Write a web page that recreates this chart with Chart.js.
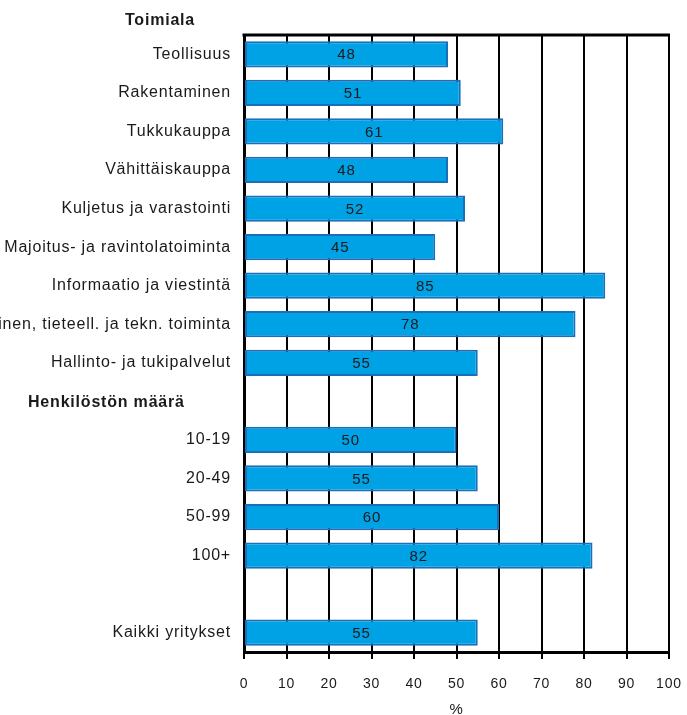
<!DOCTYPE html>
<html>
<head>
<meta charset="utf-8">
<script src="https://cdn.jsdelivr.net/npm/chart.js@4"></script>
<style>
  html, body { margin: 0; padding: 0; background: #fff; }
  #wrap { width: 687px; height: 715px; }
</style>
</head>
<body>
<div id="wrap"><canvas id="chart" width="687" height="715"></canvas></div>
<script>
// categories and values
var headers = ["Toimiala", "Henkilöstön määrä"];
var industries = ["Teollisuus", "Rakentaminen", "Tukkukauppa", "Vähittäiskauppa",
  "Kuljetus ja varastointi", "Majoitus- ja ravintolatoiminta", "Informaatio ja viestintä",
  "Ammatillinen, tieteell. ja tekn. toiminta", "Hallinto- ja tukipalvelut"];
var industryValues = [48, 51, 61, 48, 52, 45, 85, 78, 55];
var sizes = ["10-19", "20-49", "50-99", "100+"];
var sizeValues = [50, 55, 60, 82];
var totalLabel = "Kaikki yritykset";
var totalValue = 55;
var axisTitle = "%";

// one empty row for the second header, one blank row before the total
var labels = industries.concat([""], sizes, [""], [totalLabel]);
var values = industryValues.concat([null], sizeValues, [null], [totalValue]);
var headerRow = industries.length;

var FONT = "'Liberation Sans', Arial, sans-serif";
var SPACING = "0.8px";

var extras = {
  id: "extras",
  beforeDraw: function (chart) {
    chart.ctx.letterSpacing = SPACING;
  },
  afterDraw: function (chart) {
    var ctx = chart.ctx;
    var area = chart.chartArea;
    var y = chart.scales.y;
    var step = y.getPixelForValue(1) - y.getPixelForValue(0);

    ctx.save();
    // top border of the plot
    ctx.strokeStyle = "#000";
    ctx.lineWidth = 3;
    ctx.beginPath();
    ctx.moveTo(area.left - 1.5, area.top);
    ctx.lineTo(area.right + 1, area.top);
    ctx.stroke();

    // values inside the bars
    ctx.font = "15px " + FONT;
    ctx.fillStyle = "#1a1a1a";
    ctx.textAlign = "center";
    ctx.textBaseline = "middle";
    chart.getDatasetMeta(0).data.forEach(function (bar, i) {
      if (values[i] == null) return;
      ctx.fillText(String(values[i]), (bar.x + bar.base) / 2, bar.y + 1);
    });

    // bold section headers
    ctx.font = "bold 16px " + FONT;
    ctx.fillText(headers[0], 160, y.getPixelForValue(0) - step + 5);
    ctx.textAlign = "left";
    ctx.fillText(headers[1], 28, y.getPixelForValue(headerRow) + 1);
    ctx.restore();
  }
};

new Chart(document.getElementById("chart"), {
  type: "bar",
  data: {
    labels: labels,
    datasets: [{
      data: values,
      backgroundColor: "#00a2e6",
      borderColor: "#1b6fb8",
      borderWidth: 2,
      borderSkipped: false,
      barPercentage: 0.68,
      categoryPercentage: 1
    }]
  },
  options: {
    indexAxis: "y",
    responsive: false,
    animation: false,
    layout: { padding: { top: 35, right: 18, left: 0, bottom: 0 } },
    plugins: {
      legend: { display: false },
      tooltip: { enabled: false }
    },
    scales: {
      x: {
        min: 0,
        max: 100,
        ticks: { stepSize: 10, maxRotation: 0, color: "#1a1a1a", padding: 17, font: { family: FONT, size: 14 } },
        grid: { color: "#000", lineWidth: 2, tickLength: 7 },
        border: { display: true, color: "#000", width: 3 },
        title: { display: true, text: axisTitle, color: "#1a1a1a", padding: { top: 0, bottom: -4 },
          font: { family: FONT, size: 15 } },
        afterFit: function (scale) {
          scale.height = 63;
          scale.paddingLeft = 0;
          scale.paddingRight = 0;
        }
      },
      y: {
        ticks: { autoSkip: false, color: "#1a1a1a", padding: 5, font: { family: FONT, size: 16 } },
        grid: { display: false },
        border: { display: true, color: "#000", width: 3 },
        afterFit: function (scale) {
          scale.width = 244;
          scale.paddingTop = 0;
          scale.paddingBottom = 0;
        }
      }
    }
  },
  plugins: [extras]
});
</script>
</body>
</html>
